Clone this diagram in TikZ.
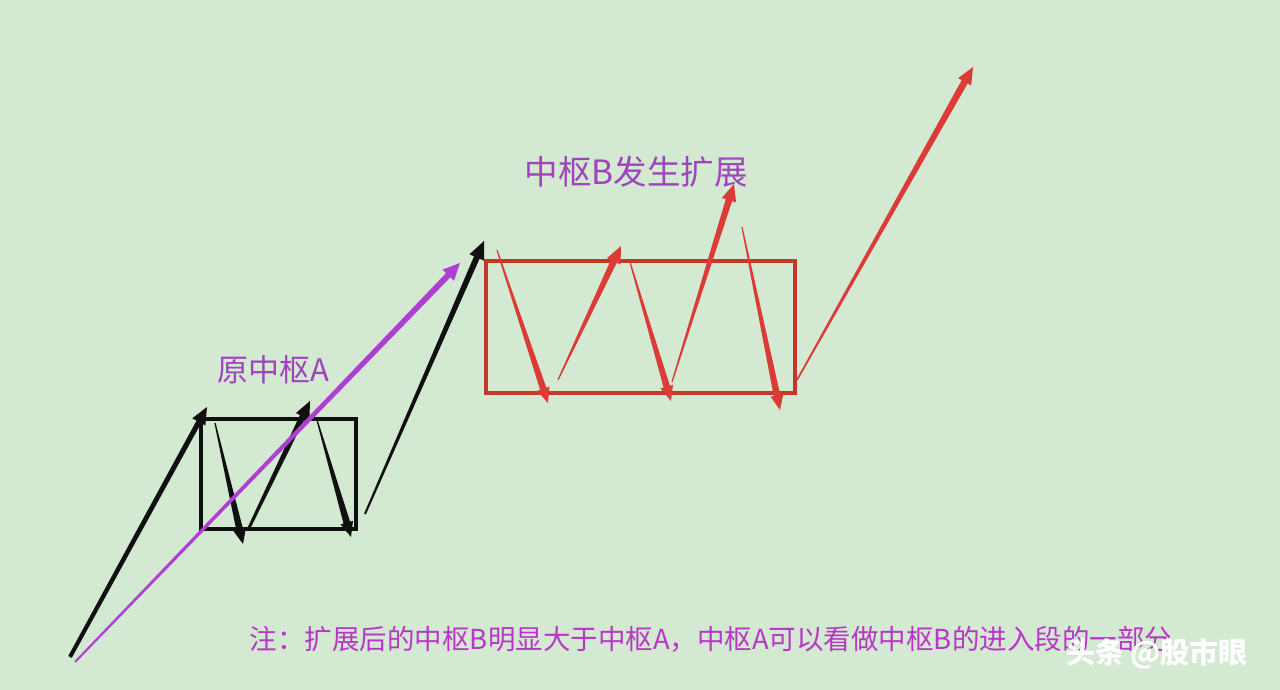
\documentclass[tikz,border=0pt]{standalone}
\usepackage{fontspec}
\newfontfamily\cjk{Noto Sans CJK SC}
\usetikzlibrary{calc}
\definecolor{bg}{RGB}{211,233,209}
\definecolor{inkblack}{RGB}{16,16,16}
\definecolor{boxred}{RGB}{196,56,42}
\definecolor{strokered}{RGB}{220,60,56}
\definecolor{violet}{RGB}{176,62,212}
\definecolor{lblpurple}{RGB}{160,68,190}
\definecolor{notepurple}{RGB}{185,55,200}
% tapered stroke with arrow head: colour, from, to, w0, w1, head length, head half width
\newcommand\arrstroke[7]{%
  \fill[#1] let \p1=($(#3)-(#2)$), \n1={atan2(\y1,\x1)} in
    ($(#2)+(\n1+90:#4)$) --
    ($(#3)+(\n1+180:#6)+(\n1+90:#5)$) --
    ($(#3)+(\n1+180:#6)+(\n1+90:#7)$) --
    (#3) --
    ($(#3)+(\n1+180:#6)+(\n1-90:#7)$) --
    ($(#3)+(\n1+180:#6)+(\n1-90:#5)$) --
    ($(#2)+(\n1-90:#4)$) -- cycle;}
\tikzset{
  zsbox/.style={line width=3.8pt},
  lbl/.style={font=\cjk, text=lblpurple, inner sep=0pt},
  notetxt/.style={font=\cjk\fontsize{27.5}{30}\selectfont, text=notepurple, inner sep=0pt},
  wmark/.style={font=\cjk\bfseries\fontsize{29}{32}\selectfont, text=white, inner sep=0pt}
}
\begin{document}
\begin{tikzpicture}[x=1pt,y=-1pt]
\useasboundingbox (0,0) rectangle (1280,690);
\fill[bg] (0,0) rectangle (1280,690);

% ---- coordinates
\coordinate (b1s) at (70,657);  \coordinate (b1e) at (207,407);
\coordinate (b2s) at (215,423); \coordinate (b2e) at (243,544);
\coordinate (b3s) at (248,530); \coordinate (b3e) at (310,401);
\coordinate (b4s) at (317,420); \coordinate (b4e) at (351,537);
\coordinate (b5s) at (365,514); \coordinate (b5e) at (484,241);
\coordinate (ms)  at (75,662);  \coordinate (me)  at (460,263);
\coordinate (r1s) at (497,250); \coordinate (r1e) at (548,403);
\coordinate (r2s) at (558,380); \coordinate (r2e) at (621,246);
\coordinate (r3s) at (630,262); \coordinate (r3e) at (671,401);
\coordinate (r4s) at (672,382); \coordinate (r4e) at (734,184);
\coordinate (r5s) at (742,227); \coordinate (r5e) at (780,410);
\coordinate (r6s) at (797,380); \coordinate (r6e) at (973,67);

% ---- boxes
\draw[zsbox, draw=inkblack] (201,419) rectangle (356,529);
\draw[zsbox, draw=boxred, line width=3.4pt] (486,261) rectangle (795,393);

% ---- black strokes
\arrstroke{inkblack}{b1s}{b1e}{2pt}{2.6pt}{17pt}{7.5pt}
\arrstroke{inkblack}{b2s}{b2e}{0.6pt}{3.4pt}{15pt}{6.5pt}
\arrstroke{inkblack}{b3s}{b3e}{1.4pt}{3pt}{17pt}{7.5pt}
\arrstroke{inkblack}{b4s}{b4e}{0.6pt}{3.4pt}{15pt}{6.5pt}
\arrstroke{inkblack}{b5s}{b5e}{1pt}{3pt}{18pt}{8pt}

% ---- violet stroke
\arrstroke{violet}{ms}{me}{1pt}{3pt}{17pt}{8pt}

% ---- red strokes
\arrstroke{strokered}{r1s}{r1e}{0.6pt}{3.3pt}{15pt}{6.5pt}
\arrstroke{strokered}{r2s}{r2e}{0.6pt}{3.3pt}{17pt}{7.5pt}
\arrstroke{strokered}{r3s}{r3e}{0.6pt}{3.3pt}{15pt}{6.5pt}
\arrstroke{strokered}{r4s}{r4e}{0.6pt}{3.3pt}{17pt}{7.5pt}
\arrstroke{strokered}{r5s}{r5e}{0.6pt}{3.3pt}{15pt}{6.5pt}
\arrstroke{strokered}{r6s}{r6e}{0.8pt}{3.4pt}{17pt}{7.5pt}

% ---- labels
\node[lbl, font=\cjk\fontsize{31}{33}\selectfont] (labA) at (273,370) {原中枢A};
\node[lbl, font=\cjk\fontsize{33.5}{36}\selectfont] (labB) at (636,172) {中枢B发生扩展};
\node[notetxt] (note) at (711,639) {注：扩展后的中枢B明显大于中枢A，中枢A可以看做中枢B的进入段的一部分};
\node[wmark] (wm) at (1157,654) {头条 @股市眼};
\end{tikzpicture}
\end{document}
